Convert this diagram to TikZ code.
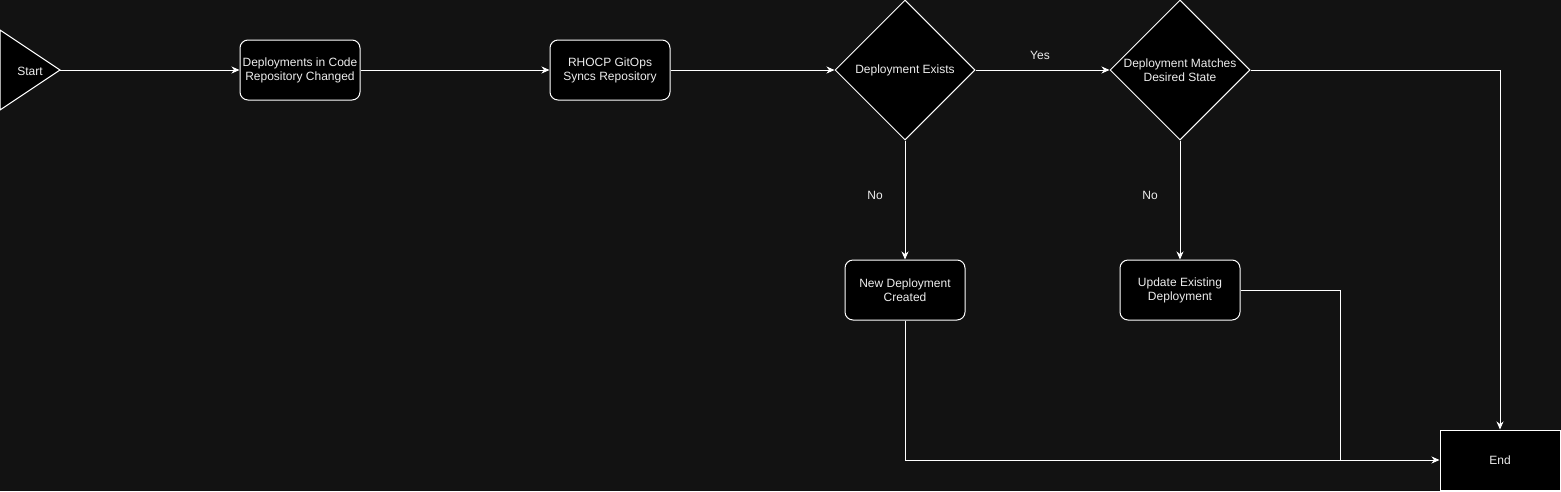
\documentclass[tikz,border=0pt]{standalone}
\usepackage{fontspec}
\setmainfont{Liberation Sans}
\usetikzlibrary{shapes.geometric,arrows.meta}
\definecolor{bgc}{HTML}{121212}
\definecolor{txt}{HTML}{EDEDED}
\tikzset{
  x=1pt,y=1pt,
  every node/.style={font=\fontsize{12}{14}\selectfont, text=txt, align=center},
  proc/.style={draw=white, fill=black, line width=1pt, rounded corners=8pt, minimum width=120pt, minimum height=60pt, inner sep=0pt},
  endbox/.style={draw=white, fill=black, line width=1pt, minimum width=120pt, minimum height=60pt, inner sep=0pt},
  decide/.style={draw=white, fill=black, line width=1pt, diamond, minimum width=140pt, minimum height=140pt, inner sep=0pt},
  startshape/.style={draw=white, fill=black, line width=1pt, line join=miter},
  conn/.style={draw=white, line width=1pt, -{Stealth[length=8pt,width=7pt,inset=2.5pt]}},
  plain/.style={draw=white, line width=1pt},
  lbl/.style={fill=none}
}
\begin{document}
\begin{tikzpicture}
\fill[bgc] (0,0) rectangle (1561,-491);
\useasboundingbox (0,0) rectangle (1561,-491);

\draw[startshape] (0,-30) -- (60,-70) -- (0,-110) -- cycle;
\coordinate (sa) at (60,-70);
\node (start) at (30,-71) {Start};
\node[proc] (b1) at (300,-70) {Deployments in Code\\Repository Changed};
\node[proc] (b2) at (610,-70) {RHOCP GitOps\\Syncs Repository};
\node[decide] (d1) at (905,-70) {Deployment Exists};
\node[decide] (d2) at (1180,-70) {Deployment Matches\\Desired State};
\node[proc] (b3) at (905,-290) {New Deployment\\Created};
\node[proc] (b4) at (1180,-290) {Update Existing\\Deployment};
\node[endbox] (e) at (1500,-460) {End};
\coordinate (j) at (1340,-460);

\draw[conn] (sa) -- (b1.west);
\draw[conn] (b1.east) -- (b2.west);
\draw[conn] (b2.east) -- (d1.west);
\draw[conn] (d1.east) -- (d2.west);
\draw[conn] (d1.south) -- (b3.north);
\draw[conn] (d2.south) -- (b4.north);
\draw[conn] (d2.east) -| (e.north);
\draw[conn] (b3.south) |- (e.west);
\draw[plain] (b4.east) -| (j);

\node[lbl] (ly) at (1040,-55) {Yes};
\node[lbl] (ln1) at (875,-195) {No};
\node[lbl] (ln2) at (1150,-195) {No};
\end{tikzpicture}
\end{document}
